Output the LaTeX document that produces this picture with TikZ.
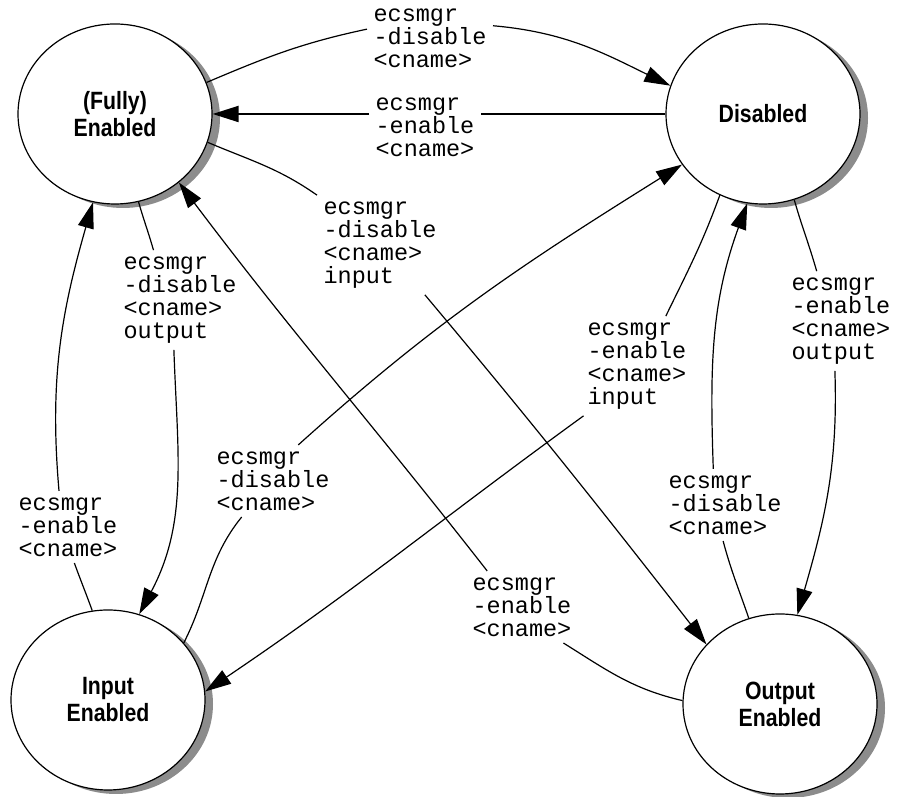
\documentclass[tikz,border=0pt]{standalone}
\usepackage{fontspec}
\usetikzlibrary{shapes.geometric, shadows, arrows.meta}
\newfontfamily\statefont[FakeStretch=0.85]{Liberation Sans}
\newfontfamily\cmdfont{Liberation Mono}
\tikzstyle{state}=[ellipse, draw, fill=white, inner sep=0pt, minimum width=97pt, minimum height=90pt, align=center, font=\statefont\bfseries\fontsize{12.5}{13.5}\selectfont, drop shadow={shadow xshift=4pt, shadow yshift=-2pt, fill=black!45, opacity=1}]
\tikzstyle{cmd}=[align=left, inner sep=3pt, font=\cmdfont\fontsize{11.75}{11.5}\selectfont]
\tikzstyle{arr}=[-{Triangle[length=13pt,width=8pt]}]

\begin{document}
\begin{tikzpicture}[x=0.5pt, y=0.5pt, line width=0.6pt]
	\useasboundingbox (0,0) rectangle (900,797);
	% states
	\node[state] (fe) at (115,683) {(Fully)\\Enabled};
	\node[state] (ds) at (763,683) {Disabled};
	\node[state] (ie) at (108,97) {Input\\Enabled};
	\node[state] (oe) at (780,93) {Output\\Enabled};
	% commands
	\node[cmd] (l1) at (430,759) {ecsmgr\\-disable\\<cname>};
	\node[cmd] (l2) at (425,670) {ecsmgr\\-enable\\<cname>};
	\node[cmd] (l3) at (380,552) {ecsmgr\\-disable\\<cname>\\input};
	\node[cmd] (l4) at (180,497) {ecsmgr\\-disable\\<cname>\\output};
	\node[cmd] (l5) at (637,431) {ecsmgr\\-enable\\<cname>\\input};
	\node[cmd] (l6) at (273,316) {ecsmgr\\-disable\\<cname>};
	\node[cmd] (l7) at (68,270) {ecsmgr\\-enable\\<cname>};
	\node[cmd] (l8) at (841,476) {ecsmgr\\-enable\\<cname>\\output};
	\node[cmd] (l9) at (725,292) {ecsmgr\\-disable\\<cname>};
	\node[cmd] (l10) at (522,190) {ecsmgr\\-enable\\<cname>};
	% transitions
	\draw (fe.19) to[out=23, in=192] (l1.172);
	\draw[arr] (l1.11) to[out=-5, in=154] (ds.163);
	\draw[line width=1pt] (ds.west) -- (l2.east |- ds.west);
	\draw[arr, line width=1pt] (l2.west |- fe.east) -- (fe.east);
	\draw (fe.-17) to[out=-23, in=145] (l3.north west);
	\draw[arr] (l3.-48) to[out=-50, in=128] (oe.141);
	\draw (fe.-75) to[out=-74, in=106] (l4.118);
	\draw[arr] (l4.263) to[out=-88, in=62] (ie.70);
	\draw (ds.-118) to[out=250, in=64] (l5.60);
	\draw[arr] (l5.223) to[out=216, in=34] (ie.5);
	\draw (ie.37) to[out=63, in=231] (l6.229);
	\draw[arr] (l6.55) to[out=42, in=212] (ds.212);
	\draw (ie.100) to[out=110, in=-70] (l7.-80);
	\draw[arr] (l7.104) to[out=95, in=254] (fe.256);
	\draw (ds.-70) to[out=-74, in=106] (l8.116);
	\draw[arr] (l8.263) to[out=-88, in=74] (oe.79);
	\draw (oe.110) to[out=109, in=-75] (l9.-93);
	\draw[arr] (l9.108) to[out=92, in=250] (ds.-100);
	\draw (oe.178) to[out=167, in=-32] (l10.-41);
	\draw[arr] (l10.134) to[out=128, in=-53] (fe.-47);
\end{tikzpicture}
\end{document}
